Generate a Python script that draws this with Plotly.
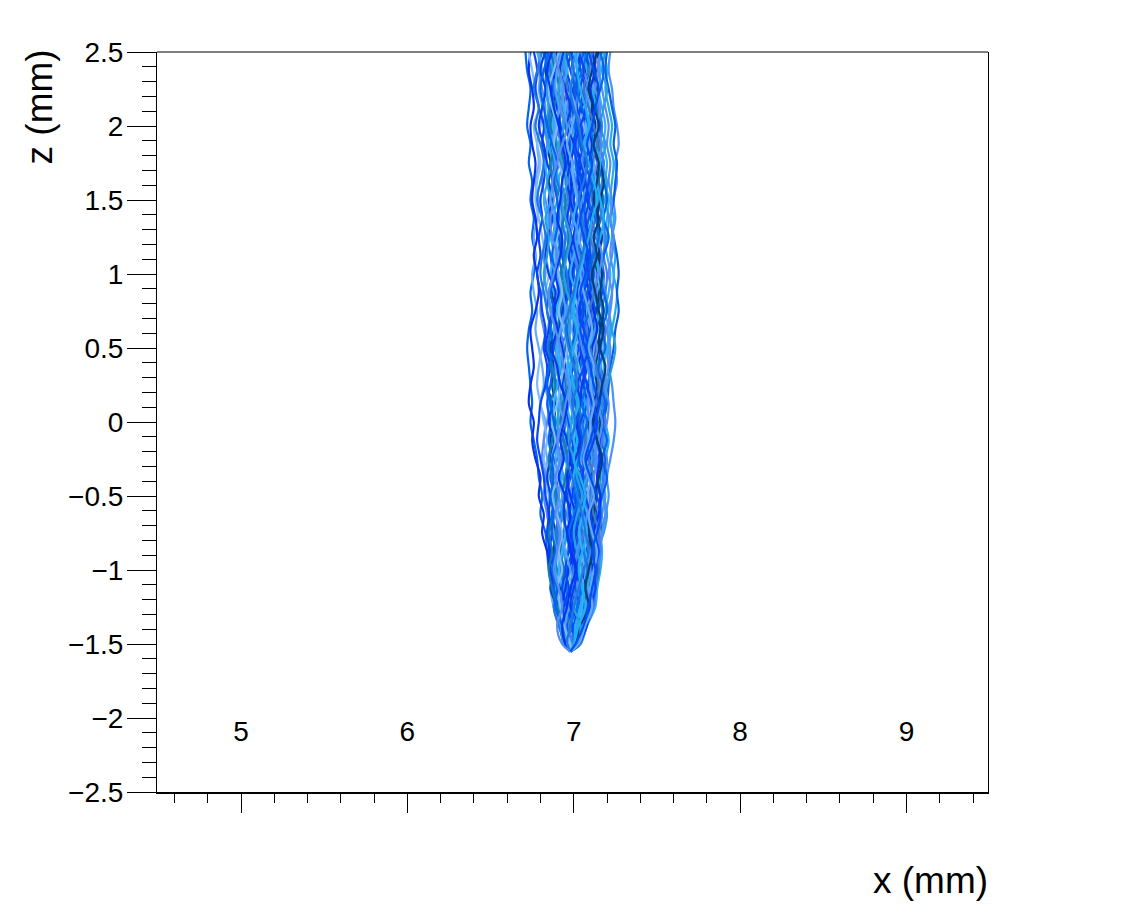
import plotly.graph_objects as go

Z_LEVELS = [2.5,2.375,2.25,2.125,2,1.875,1.75,1.625,1.5,1.375,1.25,1.125,1,0.875,0.75,0.625,0.5,0.375,0.25,0.125,0,-0.125,-0.25,-0.375,-0.5,-0.625,-0.75,-0.875,-1,-1.125,-1.25,-1.375,-1.5,-1.55]

T01 = [6.71,6.72,6.74,6.73,6.72,6.74,6.73,6.75,6.74,6.76,6.75,6.77,6.76,6.74,6.75,6.73,6.72,6.73,6.74,6.75,6.74,6.76,6.78,6.79,6.81,6.80,6.83,6.84,6.85,6.87,6.88,6.91,6.95,6.98]
T02 = [6.78,6.80,6.79,6.81,6.80,6.78,6.79,6.77,6.79,6.78,6.76,6.77,6.75,6.76,6.78,6.77,6.79,6.81,6.82,6.80,6.83,6.82,6.84,6.83,6.85,6.84,6.86,6.85,6.87,6.86,6.88,6.92,6.96,6.98]
T03 = [6.74,6.73,6.75,6.76,6.74,6.75,6.77,6.76,6.75,6.77,6.78,6.76,6.78,6.79,6.77,6.74,6.75,6.76,6.74,6.73,6.76,6.75,6.77,6.80,6.79,6.82,6.81,6.84,6.86,6.88,6.90,6.94,6.97,6.98]
T04 = [6.76,6.78,6.77,6.79,6.82,6.81,6.83,6.82,6.80,6.81,6.79,6.80,6.78,6.80,6.81,6.83,6.82,6.84,6.83,6.80,6.79,6.78,6.80,6.82,6.83,6.85,6.84,6.86,6.88,6.87,6.90,6.93,6.97,6.98]
T05 = [6.80,6.79,6.81,6.83,6.82,6.84,6.82,6.81,6.83,6.85,6.84,6.82,6.83,6.81,6.80,6.82,6.84,6.85,6.83,6.85,6.84,6.82,6.81,6.83,6.82,6.84,6.86,6.85,6.86,6.89,6.91,6.94,6.96,6.98]
T06 = [6.82,6.84,6.83,6.85,6.84,6.86,6.88,6.87,6.85,6.86,6.84,6.86,6.87,6.85,6.84,6.86,6.85,6.87,6.86,6.84,6.86,6.85,6.87,6.86,6.88,6.87,6.85,6.87,6.89,6.88,6.91,6.95,6.97,6.98]
T07 = [6.84,6.83,6.85,6.87,6.86,6.84,6.86,6.85,6.87,6.89,6.88,6.90,6.88,6.87,6.89,6.88,6.86,6.88,6.87,6.89,6.88,6.86,6.88,6.90,6.89,6.87,6.89,6.88,6.90,6.92,6.93,6.95,6.97,6.98]
T08 = [6.86,6.88,6.87,6.89,6.88,6.90,6.89,6.91,6.90,6.88,6.90,6.89,6.91,6.92,6.90,6.89,6.91,6.90,6.88,6.90,6.91,6.89,6.91,6.90,6.88,6.90,6.92,6.90,6.89,6.91,6.94,6.96,6.97,6.98]
T09 = [6.88,6.87,6.89,6.91,6.90,6.92,6.91,6.89,6.91,6.93,6.92,6.94,6.93,6.91,6.93,6.92,6.94,6.92,6.91,6.93,6.92,6.94,6.93,6.92,6.91,6.93,6.91,6.93,6.92,6.94,6.95,6.96,6.97,6.98]
T10 = [6.90,6.92,6.91,6.93,6.94,6.92,6.94,6.93,6.95,6.94,6.92,6.91,6.93,6.95,6.94,6.96,6.95,6.93,6.95,6.94,6.92,6.94,6.96,6.95,6.93,6.95,6.94,6.92,6.94,6.93,6.96,6.97,6.98,6.98]
T11 = [6.92,6.91,6.93,6.95,6.96,6.94,6.96,6.97,6.95,6.97,6.96,6.98,6.97,6.95,6.97,6.98,6.96,6.97,6.99,6.97,6.96,6.98,6.97,6.95,6.97,6.96,6.98,6.96,6.95,6.97,6.96,6.98,6.97,6.98]
T12 = [6.94,6.96,6.95,6.97,6.98,6.97,6.99,6.98,7.00,6.98,6.97,6.99,7.00,6.98,6.99,7.01,7.00,6.98,7.00,6.99,7.01,7.00,6.98,7.00,6.99,6.97,6.99,6.98,7.00,6.98,6.99,6.97,6.98,6.98]
T13 = [6.96,6.95,6.97,6.99,7.01,7.00,7.02,7.01,6.99,7.01,7.03,7.02,7.00,7.02,7.01,7.03,7.02,7.04,7.03,7.01,7.03,7.02,7.00,7.02,7.01,7.03,7.01,7.00,7.02,7.01,7.00,7.01,6.99,6.98]
T14 = [6.98,7.00,7.02,7.01,7.03,7.02,7.04,7.03,7.05,7.04,7.02,7.04,7.03,7.05,7.04,7.06,7.05,7.03,7.05,7.04,7.02,7.04,7.03,7.05,7.03,7.04,7.02,7.04,7.03,7.02,7.03,7.01,6.99,6.98]
T15 = [7.00,6.99,7.01,7.03,7.05,7.04,7.06,7.05,7.07,7.06,7.08,7.07,7.05,7.07,7.06,7.04,7.06,7.05,7.07,7.06,7.08,7.06,7.05,7.07,7.05,7.06,7.04,7.06,7.05,7.04,7.05,7.03,7.00,6.98]
T16 = [7.02,7.04,7.03,7.05,7.07,7.06,7.08,7.07,7.09,7.08,7.06,7.08,7.10,7.09,7.07,7.09,7.08,7.10,7.09,7.07,7.09,7.08,7.10,7.08,7.07,7.09,7.07,7.08,7.06,7.05,7.06,7.04,7.01,6.98]
T17 = [7.04,7.03,7.05,7.07,7.06,7.08,7.10,7.09,7.11,7.10,7.12,7.11,7.09,7.11,7.10,7.12,7.11,7.09,7.11,7.10,7.12,7.10,7.09,7.11,7.09,7.10,7.08,7.10,7.08,7.07,7.08,7.05,7.01,6.98]
T18 = [7.06,7.08,7.07,7.09,7.11,7.10,7.12,7.11,7.13,7.12,7.10,7.12,7.14,7.13,7.11,7.13,7.12,7.14,7.13,7.11,7.13,7.12,7.10,7.12,7.11,7.13,7.11,7.12,7.10,7.09,7.10,7.06,7.02,6.98]
T19 = [7.08,7.07,7.09,7.11,7.13,7.12,7.14,7.13,7.15,7.14,7.16,7.15,7.13,7.15,7.14,7.16,7.15,7.13,7.15,7.14,7.16,7.14,7.13,7.15,7.13,7.14,7.12,7.13,7.12,7.10,7.11,7.07,7.03,6.98]
T20 = [7.10,7.12,7.11,7.13,7.15,7.14,7.16,7.15,7.17,7.16,7.14,7.16,7.18,7.17,7.15,7.17,7.16,7.15,7.17,7.16,7.14,7.16,7.15,7.14,7.16,7.14,7.13,7.15,7.13,7.12,7.12,7.07,7.03,6.98]
T21 = [7.12,7.11,7.13,7.15,7.17,7.16,7.18,7.17,7.15,7.17,7.19,7.18,7.20,7.19,7.17,7.19,7.18,7.16,7.18,7.17,7.19,7.17,7.16,7.18,7.16,7.17,7.15,7.16,7.14,7.13,7.12,7.08,7.03,6.98]
T22 = [7.14,7.16,7.15,7.17,7.19,7.18,7.20,7.19,7.21,7.20,7.18,7.20,7.22,7.21,7.19,7.21,7.20,7.18,7.20,7.19,7.17,7.19,7.18,7.17,7.19,7.17,7.16,7.17,7.15,7.14,7.13,7.08,7.04,6.98]
T23 = [7.16,7.15,7.17,7.19,7.21,7.20,7.22,7.21,7.23,7.22,7.24,7.23,7.21,7.23,7.22,7.20,7.22,7.21,7.19,7.21,7.20,7.18,7.20,7.19,7.18,7.19,7.17,7.16,7.15,7.13,7.12,7.07,7.03,6.98]
T24 = [7.18,7.20,7.19,7.21,7.23,7.22,7.24,7.23,7.22,7.24,7.23,7.25,7.24,7.26,7.25,7.23,7.21,7.22,7.20,7.18,7.19,7.21,7.19,7.18,7.17,7.16,7.15,7.17,7.16,7.14,7.12,7.08,7.04,6.98]
T25 = [7.20,7.19,7.21,7.23,7.25,7.24,7.26,7.25,7.24,7.22,7.24,7.26,7.27,7.26,7.27,7.25,7.24,7.22,7.21,7.20,7.18,7.17,7.19,7.18,7.16,7.15,7.17,7.15,7.14,7.13,7.11,7.07,7.03,6.98]
T26 = [7.22,7.21,7.23,7.24,7.26,7.27,7.25,7.26,7.24,7.25,7.23,7.22,7.24,7.23,7.21,7.22,7.20,7.21,7.23,7.24,7.25,7.24,7.22,7.20,7.21,7.19,7.16,7.15,7.13,7.14,7.12,7.06,7.02,6.98]
T27 = [6.79,6.81,6.83,6.85,6.87,6.85,6.83,6.84,6.82,6.84,6.86,6.88,6.86,6.88,6.90,6.88,6.90,6.92,6.90,6.88,6.87,6.89,6.91,6.93,6.91,6.93,6.95,6.93,6.91,6.93,6.92,6.94,6.96,6.98]
T28 = [6.83,6.85,6.88,6.90,6.92,6.94,6.92,6.95,6.97,6.95,6.98,7.00,7.02,7.00,6.98,6.96,6.93,6.95,6.97,7.00,6.98,6.96,6.94,6.92,6.94,6.92,6.90,6.92,6.94,6.96,6.95,6.97,6.98,6.98]
T29 = [6.87,6.90,6.93,6.95,6.93,6.96,6.99,7.02,7.00,7.03,7.05,7.08,7.06,7.03,7.01,6.99,7.02,7.05,7.07,7.05,7.02,7.00,7.03,7.05,7.03,7.00,7.02,6.99,6.97,6.99,7.01,7.00,6.99,6.98]
T30 = [6.91,6.94,6.92,6.89,6.87,6.90,6.93,6.91,6.94,6.96,6.93,6.95,6.92,6.90,6.92,6.94,6.97,6.99,6.96,6.98,7.00,7.02,7.05,7.07,7.05,7.08,7.06,7.04,7.06,7.08,7.06,7.03,7.00,6.98]
T31 = [6.97,6.94,6.96,6.93,6.91,6.89,6.92,6.95,6.97,6.99,7.02,7.04,7.07,7.09,7.06,7.08,7.10,7.07,7.05,7.03,7.05,7.07,7.09,7.07,7.10,7.12,7.09,7.11,7.09,7.07,7.04,7.02,7.00,6.98]
T32 = [7.01,7.04,7.07,7.09,7.12,7.09,7.07,7.04,7.02,7.00,6.98,7.00,6.97,6.99,7.02,7.00,7.03,7.00,6.97,6.95,6.97,6.99,7.01,6.98,6.96,6.98,7.00,7.03,7.01,6.99,7.02,7.00,6.97,6.98]
T33 = [7.05,7.02,7.00,6.98,7.00,6.97,6.95,6.98,6.96,6.93,6.95,6.93,6.96,6.94,6.96,6.93,6.91,6.93,6.96,6.94,6.97,6.95,6.92,6.94,6.96,7.00,7.02,7.05,7.08,7.06,7.09,7.05,7.02,6.98]
T34 = [7.09,7.06,7.08,7.05,7.03,7.06,7.03,7.00,7.03,7.01,7.04,7.02,6.99,7.02,7.04,7.07,7.09,7.07,7.04,7.08,7.06,7.04,7.01,7.04,7.08,7.11,7.13,7.11,7.08,7.10,7.08,7.04,7.00,6.98]
T35 = [7.13,7.10,7.07,7.10,7.08,7.10,7.12,7.09,7.06,7.08,7.11,7.13,7.16,7.14,7.12,7.15,7.18,7.16,7.13,7.10,7.11,7.13,7.11,7.08,7.06,7.03,7.05,7.02,7.00,7.02,7.05,7.03,7.01,6.98]
T36 = [7.17,7.14,7.12,7.14,7.17,7.15,7.18,7.15,7.18,7.16,7.13,7.09,7.11,7.14,7.17,7.14,7.13,7.16,7.19,7.18,7.15,7.11,7.13,7.16,7.14,7.11,7.13,7.09,7.11,7.09,7.06,7.04,7.02,6.98]
T37 = [6.81,6.78,6.76,6.79,6.77,6.80,6.82,6.80,6.78,6.81,6.83,6.81,6.80,6.82,6.84,6.86,6.84,6.87,6.90,6.93,6.95,6.93,6.90,6.87,6.89,6.91,6.89,6.91,6.93,6.91,6.88,6.91,6.95,6.98]
T38 = [6.99,7.02,7.00,7.03,7.00,7.03,7.01,7.04,7.07,7.05,7.02,7.05,7.08,7.05,7.08,7.10,7.07,7.04,7.01,7.03,7.00,7.03,7.06,7.03,7.00,7.03,7.05,7.07,7.04,7.05,7.03,7.02,7.00,6.98]
T39 = [6.73,6.75,6.77,6.79,6.76,6.78,6.80,6.78,6.77,6.79,6.81,6.83,6.85,6.83,6.86,6.84,6.81,6.79,6.78,6.80,6.82,6.84,6.82,6.85,6.83,6.86,6.88,6.90,6.91,6.90,6.92,6.95,6.97,6.98]
T40 = [7.19,7.17,7.20,7.18,7.16,7.19,7.17,7.20,7.19,7.21,7.20,7.18,7.17,7.19,7.21,7.23,7.25,7.23,7.20,7.17,7.14,7.15,7.13,7.15,7.18,7.20,7.18,7.14,7.15,7.11,7.10,7.06,7.03,6.98]
T41 = [6.85,6.86,6.88,6.86,6.85,6.87,6.88,6.90,6.93,6.92,6.95,6.94,6.96,6.97,6.99,7.01,6.99,7.02,7.00,7.03,7.05,7.07,7.06,7.04,7.02,7.03,7.05,7.06,7.08,7.07,7.09,7.06,7.02,6.98]
T42 = [6.89,6.86,6.84,6.85,6.83,6.85,6.87,6.84,6.86,6.83,6.85,6.84,6.82,6.84,6.87,6.90,6.89,6.91,6.94,6.92,6.90,6.92,6.95,6.97,6.95,6.93,6.96,6.94,6.96,6.94,6.91,6.92,6.94,6.98]
T43 = [6.93,6.90,6.89,6.91,6.89,6.87,6.89,6.88,6.86,6.89,6.88,6.91,6.90,6.93,6.95,6.92,6.90,6.89,6.92,6.91,6.94,6.91,6.89,6.91,6.93,6.90,6.92,6.95,6.98,7.00,6.97,6.95,6.96,6.98]
T44 = [6.95,6.98,7.00,6.97,6.95,6.98,6.96,6.94,6.92,6.90,6.91,6.93,6.95,6.97,6.94,6.96,6.98,7.01,7.03,7.02,7.04,7.01,6.99,7.02,7.04,7.06,7.03,7.01,6.99,7.01,6.98,6.99,7.01,6.98]
T45 = [7.03,7.00,6.98,7.01,6.99,6.96,6.99,7.00,7.02,7.05,7.03,7.06,7.04,7.06,7.09,7.11,7.09,7.12,7.10,7.12,7.10,7.09,7.06,7.09,7.12,7.09,7.11,7.14,7.12,7.10,7.11,7.07,7.03,6.98]
T46 = [7.07,7.09,7.06,7.04,7.02,7.00,7.02,7.05,7.04,7.07,7.09,7.10,7.12,7.10,7.13,7.10,7.07,7.08,7.06,7.08,7.04,7.02,7.00,7.03,7.01,7.02,7.00,6.97,6.95,6.97,6.94,6.93,6.95,6.98]
T47 = [7.11,7.13,7.10,7.12,7.09,7.11,7.09,7.06,7.08,7.11,7.08,7.05,7.07,7.09,7.12,7.14,7.11,7.11,7.09,7.13,7.11,7.14,7.16,7.14,7.16,7.15,7.12,7.14,7.11,7.12,7.09,7.05,7.02,6.98]
T48 = [7.15,7.12,7.14,7.11,7.10,7.13,7.16,7.18,7.16,7.14,7.17,7.15,7.17,7.16,7.18,7.16,7.14,7.12,7.14,7.12,7.09,7.10,7.12,7.10,7.13,7.12,7.10,7.12,7.09,7.06,7.08,7.06,7.03,6.98]
T49 = [6.85,6.82,6.80,6.82,6.84,6.87,6.90,6.88,6.90,6.91,6.89,6.87,6.89,6.86,6.88,6.86,6.88,6.85,6.84,6.86,6.88,6.90,6.87,6.88,6.86,6.88,6.87,6.89,6.87,6.90,6.89,6.93,6.95,6.98]
T50 = [6.90,6.89,6.87,6.90,6.92,6.95,6.97,6.99,6.98,7.01,7.00,6.97,6.99,6.96,6.93,6.91,6.93,6.95,6.93,6.95,6.93,6.96,6.98,6.96,6.98,7.01,6.98,7.00,6.97,6.95,6.93,6.96,6.99,6.98]
T51 = [6.95,6.93,6.91,6.92,6.94,6.91,6.93,6.96,6.93,6.95,6.98,6.96,6.94,6.96,6.99,6.97,6.99,7.02,6.99,7.02,6.99,6.97,7.00,7.02,7.05,7.02,7.00,7.02,7.05,7.03,7.00,7.04,7.02,6.98]
T52 = [7.00,7.03,7.05,7.03,7.06,7.08,7.05,7.08,7.10,7.12,7.09,7.06,7.02,7.00,7.03,7.05,7.01,7.03,7.06,7.09,7.07,7.05,7.08,7.06,7.09,7.07,7.09,7.06,7.04,7.06,7.04,7.01,6.97,6.98]
T53 = [7.04,7.06,7.09,7.07,7.10,7.07,7.05,7.08,7.05,7.03,7.01,7.03,7.06,7.04,7.02,7.03,7.05,7.08,7.10,7.08,7.10,7.12,7.14,7.12,7.11,7.08,7.07,7.09,7.10,7.12,7.07,7.05,7.02,6.98]
T54 = [7.08,7.05,7.02,7.05,7.09,7.12,7.10,7.12,7.09,7.13,7.15,7.12,7.08,7.06,7.09,7.06,7.09,7.11,7.08,7.05,7.08,7.05,7.03,7.01,7.03,7.00,6.97,6.99,7.02,7.04,7.02,6.98,6.96,6.98]
T55 = [7.12,7.15,7.13,7.16,7.14,7.17,7.14,7.12,7.14,7.11,7.14,7.17,7.15,7.12,7.09,7.11,7.14,7.12,7.16,7.14,7.17,7.15,7.12,7.14,7.12,7.15,7.13,7.10,7.13,7.10,7.07,7.03,7.00,6.98]
T56 = [6.87,6.84,6.86,6.88,6.91,6.93,6.95,6.93,6.92,6.90,6.93,6.92,6.89,6.91,6.88,6.90,6.87,6.90,6.92,6.96,6.94,6.92,6.94,6.91,6.95,6.98,6.96,6.98,7.01,6.98,6.96,6.93,6.95,6.98]
T57 = [6.92,6.95,6.98,6.96,6.99,7.02,7.00,6.97,6.99,7.00,6.98,7.01,7.03,7.05,7.03,7.01,7.04,7.01,7.04,7.07,7.04,7.06,7.04,7.00,6.98,7.01,7.04,7.02,7.00,7.03,7.05,7.02,6.98,6.98]
T58 = [6.97,7.00,6.98,7.00,7.03,7.05,7.08,7.06,7.03,7.05,7.07,7.05,7.02,7.00,6.97,6.95,6.97,7.00,7.02,6.99,7.01,6.98,6.96,6.99,7.02,7.05,7.07,7.09,7.06,7.03,7.00,6.98,6.96,6.98]
T59 = [7.02,6.99,7.03,7.01,7.04,7.01,6.98,7.01,7.03,7.06,7.04,7.00,7.04,7.07,7.05,7.08,7.06,7.09,7.12,7.10,7.13,7.10,7.12,7.09,7.06,7.09,7.06,7.03,7.00,7.00,7.02,6.97,6.99,6.98]
T60 = [7.06,7.03,7.01,6.99,7.02,7.04,7.07,7.10,7.12,7.09,7.07,7.09,7.11,7.08,7.05,7.02,6.99,7.02,6.99,7.01,7.03,7.05,7.03,7.06,7.04,7.07,7.10,7.12,7.14,7.11,7.08,7.06,7.03,6.98]
T61 = [7.10,7.08,7.12,7.09,7.07,7.09,7.11,7.13,7.10,7.08,7.12,7.10,7.13,7.11,7.08,7.10,7.12,7.09,7.11,7.09,7.07,7.09,7.07,7.10,7.08,7.05,7.08,7.05,7.07,7.09,7.10,7.07,7.04,6.98]
T62 = [7.14,7.11,7.09,7.12,7.15,7.12,7.15,7.14,7.12,7.15,7.12,7.14,7.11,7.13,7.15,7.18,7.16,7.19,7.17,7.15,7.12,7.14,7.17,7.15,7.12,7.10,7.09,7.11,7.09,7.07,7.09,7.04,7.01,6.98]
T63 = [6.83,6.80,6.83,6.81,6.79,6.82,6.84,6.87,6.85,6.87,6.85,6.83,6.85,6.89,6.87,6.85,6.83,6.86,6.84,6.87,6.85,6.88,6.86,6.84,6.86,6.85,6.87,6.85,6.88,6.86,6.90,6.92,6.94,6.98]
T64 = [6.88,6.91,6.94,6.92,6.96,6.93,6.90,6.87,6.88,6.86,6.87,6.90,6.88,6.85,6.86,6.89,6.92,6.94,6.97,6.95,6.93,6.90,6.92,6.89,6.91,6.89,6.92,6.90,6.88,6.91,6.93,6.90,6.93,6.98]
T65 = [6.93,6.96,6.93,6.94,6.97,6.99,6.98,7.00,7.02,7.00,7.03,7.00,6.98,7.01,6.99,7.02,6.99,6.96,6.98,6.96,6.98,7.00,7.02,7.00,7.03,7.05,7.03,7.05,7.03,7.06,7.05,7.03,7.01,6.98]
T66 = [6.99,6.96,6.99,7.02,7.04,7.06,7.03,7.02,7.00,7.02,7.00,7.03,7.05,7.07,7.10,7.07,7.04,7.06,7.02,7.05,7.07,7.09,7.07,7.03,7.06,7.04,7.01,6.99,6.96,6.93,6.96,6.99,7.00,6.98]
T67 = [7.03,7.06,7.04,7.07,7.04,7.01,7.04,7.07,7.09,7.07,7.09,7.07,7.09,7.06,7.03,7.06,7.09,7.06,7.08,7.11,7.14,7.12,7.08,7.05,7.07,7.10,7.12,7.15,7.12,7.13,7.10,7.08,7.03,6.98]
T68 = [7.11,7.09,7.06,7.09,7.12,7.14,7.11,7.09,7.11,7.13,7.10,7.13,7.10,7.12,7.09,7.07,7.10,7.13,7.15,7.13,7.08,7.07,7.09,7.12,7.10,7.12,7.15,7.13,7.15,7.13,7.11,7.07,7.04,6.98]
T69 = [7.16,7.18,7.16,7.13,7.16,7.13,7.15,7.18,7.20,7.18,7.21,7.18,7.15,7.18,7.20,7.17,7.19,7.15,7.16,7.19,7.17,7.20,7.17,7.20,7.17,7.14,7.11,7.13,7.11,7.08,7.06,7.05,7.02,6.98]
T70 = [6.86,6.89,6.91,6.88,6.86,6.89,6.86,6.88,6.92,6.95,6.97,6.95,6.92,6.94,6.92,6.90,6.88,6.86,6.89,6.86,6.89,6.87,6.85,6.87,6.90,6.88,6.85,6.87,6.85,6.87,6.90,6.94,6.96,6.98]
T71 = [6.94,6.92,6.95,6.98,6.96,7.00,6.98,6.96,6.98,6.96,6.99,7.02,7.04,7.02,7.04,7.02,7.05,7.07,7.05,7.03,7.01,7.04,7.01,6.97,6.95,6.94,6.96,6.99,7.02,7.00,6.98,7.05,7.03,6.98]
T72 = [7.01,7.02,7.04,7.07,7.09,7.06,7.09,7.12,7.14,7.11,7.09,7.06,7.03,7.01,7.00,7.02,7.00,6.98,7.00,7.03,7.00,7.02,7.00,7.04,7.07,7.05,7.08,7.05,7.03,7.05,7.07,7.03,7.00,6.98]
T73 = [7.05,7.08,7.11,7.13,7.10,7.13,7.16,7.14,7.16,7.18,7.16,7.13,7.15,7.12,7.15,7.13,7.10,7.13,7.11,7.07,7.05,7.08,7.11,7.08,7.05,7.07,7.04,7.07,7.10,7.08,7.04,7.01,7.00,6.98]
T74 = [6.91,6.88,6.85,6.87,6.90,6.88,6.91,6.94,6.91,6.92,6.90,6.88,6.91,6.93,6.91,6.94,6.96,6.94,6.92,6.90,6.87,6.89,6.87,6.90,6.87,6.90,6.93,6.91,6.93,6.90,6.92,6.94,6.98,6.98]
T75 = [7.09,7.12,7.15,7.13,7.11,7.08,7.11,7.09,7.07,7.04,7.06,7.09,7.07,7.04,7.06,7.04,7.07,7.10,7.12,7.15,7.13,7.10,7.07,7.10,7.14,7.16,7.14,7.11,7.13,7.11,7.09,7.06,7.01,6.98]

TRACKS = [T01,T15,T26,T07,T33,T20,T02,T12,T24,T28,T05,T17,T36,T09,T22,T03,T30,T18,T13,T39,T25,T06,T34,T11,T19,T40,T04,T29,T16,T08,T37,T23,T32,T10,T21,T27,T14,T35,T31,T38,
          T52,T44,T69,T63,T57,T48,T42,T66,T61,T50,T73,T41,T55,T46,T70,T59,T65,T47,T43,T68,T54,T74,T60,T49,T71,T53,T62,T51,T67,T45,T56,T72,T58,T64,T75]
COLORS = ["#0066ee","#0a3fe8","#4a90ff","#003f7f","#2a9fe0","#0a46f8","#66aaff","#0038f0","#1fb0f0","#1f78e0","#5a8cf0","#0050f0","#157ab0","#3f80f0","#33b0ff","#0a30e8","#4fa0ff","#3f78c8","#0070f0","#80bbff","#0a5ce0"]
X_TICKS = [5, 6, 7, 8, 9]
X_TITLE = "x (mm)"
Z_TITLE = "z (mm)"
FONT = "Liberation Sans"

fig = go.Figure()
for i, track in enumerate(TRACKS):
    fig.add_trace(go.Scatter(x=track, y=Z_LEVELS, mode="lines", showlegend=False, hoverinfo="skip",
                             line=dict(color=COLORS[i % len(COLORS)], width=2.2, shape="spline", smoothing=1)))

fig.update_layout(
    width=1125, height=920, autosize=False,
    margin=dict(l=157, r=137, t=52, b=128, pad=0),
    paper_bgcolor="white", plot_bgcolor="white",
    font=dict(family=FONT, color="black", size=28),
    xaxis=dict(range=[4.495, 9.49], showgrid=False, zeroline=False, showline=True, linecolor="black", linewidth=2,
               tickmode="array", tickvals=X_TICKS, ticks="outside", ticklen=19, tickwidth=1, tickcolor="black",
               tickfont=dict(size=28, family=FONT, color="black"),
               ticklabelstandoff=-106,
               minor=dict(dtick=0.2, tick0=4.6, ticks="outside", ticklen=9, tickwidth=1, tickcolor="black", showgrid=False)),
    yaxis=dict(range=[-2.5, 2.5], showgrid=False, zeroline=False, showline=True, linecolor="black", linewidth=1, mirror=True,
               dtick=0.5, tick0=-2.5, ticks="outside", ticklen=29, tickwidth=1, tickcolor="black",
               tickfont=dict(size=28, family=FONT, color="black"), ticklabelstandoff=-2,
               minor=dict(dtick=0.1, tick0=-2.5, ticks="outside", ticklen=14, tickwidth=1, tickcolor="black", showgrid=False)),
    shapes=[dict(type="line", xref="paper", yref="paper", x0=0, x1=1, y0=1, y1=1, line=dict(color="black", width=1))],
    annotations=[
        dict(text=X_TITLE, xref="paper", yref="paper", x=1.002, y=-0.119, xanchor="right", yanchor="middle",
             showarrow=False, font=dict(size=37, family=FONT, color="black")),
        dict(text=Z_TITLE, xref="paper", yref="paper", x=-0.1415, y=1.006, xanchor="center", yanchor="top",
             textangle=-90, showarrow=False, font=dict(size=37, family=FONT, color="black")),
    ],
)
fig.write_html("out.html", post_script="document.body.style.margin='0';", config={"displayModeBar": False})
